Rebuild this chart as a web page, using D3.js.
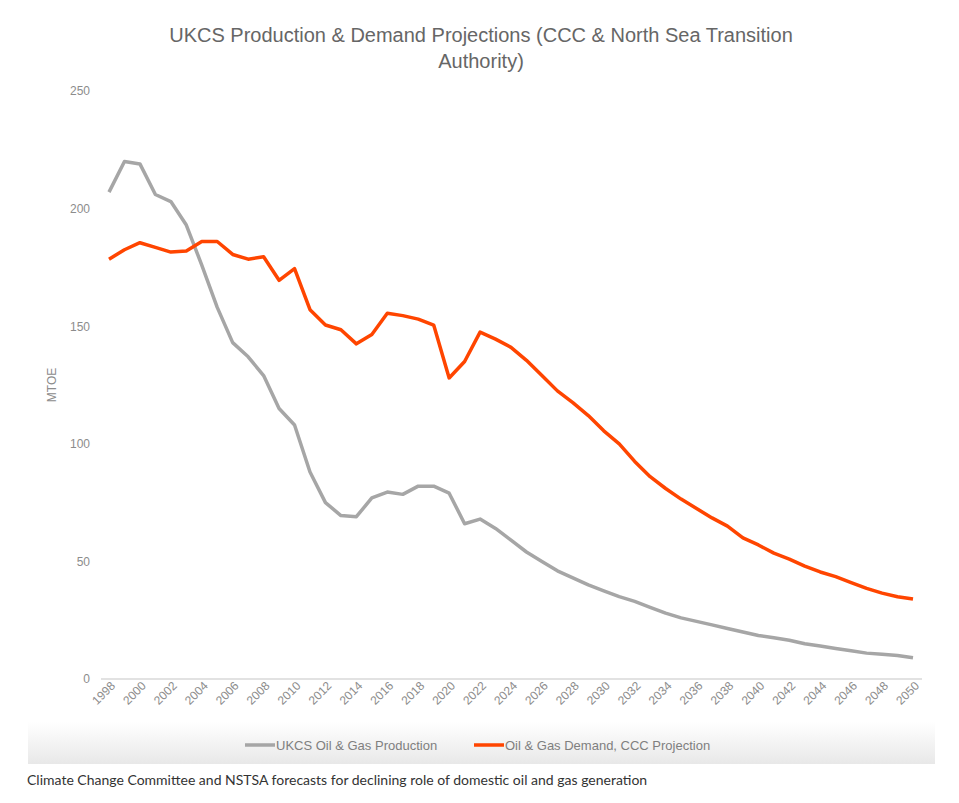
<!DOCTYPE html>
<html lang="en">
<head>
<meta charset="UTF-8">
<script src="https://cdn.jsdelivr.net/npm/d3@7"></script>
<style>
  body { margin: 0; background: #fff; font-family: "Liberation Sans", Arial, sans-serif; }
  .caption { font-family: Lato, sans-serif; font-size: 14px; fill: #333; }
</style>
</head>
<body>
<svg id="chart" width="959" height="803"></svg>
<script>
// years 1998..2050
var years = d3.range(1998, 2051);
var production = [207, 220, 219, 206, 203, 193, 176, 158, 143, 137, 129, 115, 108, 88, 75, 69.5, 69, 77, 79.5, 78.5,
  82, 82, 79, 66, 68, 64, 59, 54, 50, 46, 43, 40, 37.5, 35, 33, 30.5, 28, 26, 24.5, 23, 21.5, 20, 18.5, 17.5,
  16.5, 15, 14, 13, 12, 11, 10.5, 10, 9];
var demand = [178.5, 182.5, 185.5, 183.5, 181.5, 182, 186, 186, 180.5, 178.5, 179.5, 169.5, 174.5, 157, 150.5, 148.5,
  142.5, 146.5, 155.5, 154.5, 153, 150.5, 128, 135, 147.5, 144.5, 141, 135.5, 129, 122.5, 117.5, 112, 105.5, 100,
  92.5, 86, 81, 76.5, 72.5, 68.5, 65, 60, 57, 53.5, 51, 48, 45.5, 43.5, 41, 38.5, 36.5, 35, 34];
var yTicks = [0, 50, 100, 150, 200, 250];
var seriesNames = ["UKCS Oil & Gas Production", "Oil & Gas Demand, CCC Projection"];
var seriesColors = ["#a6a6a6", "#ff4500"];

var svg = d3.select("#chart");
var x = d3.scaleLinear().domain([1998, 2050]).range([109, 913]);
var y = d3.scaleLinear().domain([0, 250]).range([679, 91]);

// title
svg.append("text").attr("x", 481).attr("y", 42).attr("text-anchor", "middle")
  .attr("font-size", 20).attr("fill", "#666").text("UKCS Production & Demand Projections (CCC & North Sea Transition");
svg.append("text").attr("x", 481).attr("y", 68).attr("text-anchor", "middle")
  .attr("font-size", 20).attr("fill", "#666").text("Authority)");

// y axis
var yAxis = svg.append("g").attr("transform", "translate(90,0)")
  .call(d3.axisLeft(y).tickValues(yTicks).tickSize(0).tickPadding(0));
yAxis.select(".domain").remove();
yAxis.selectAll("text").attr("font-size", 12).attr("fill", "#8c8c8c").attr("font-family", "Liberation Sans, Arial");

svg.append("line").attr("x1", 101).attr("x2", 922).attr("y1", y(0)).attr("y2", y(0))
  .attr("stroke", "#d9d9d9").attr("stroke-width", 1.5);

svg.append("text").attr("transform", "translate(56,385) rotate(-90)").attr("text-anchor", "middle")
  .attr("font-size", 12).attr("fill", "#8c8c8c").text("MTOE");

// x axis
var xAxis = svg.append("g").attr("transform", "translate(0," + (y(0) + 8) + ")")
  .call(d3.axisBottom(x).tickValues(years.filter(function(d) { return d % 2 === 0; }))
    .tickFormat(d3.format("d")).tickSize(0).tickPadding(0));
xAxis.select(".domain").remove();
xAxis.selectAll("text").attr("font-size", 12).attr("fill", "#8c8c8c")
  .attr("text-anchor", "end").attr("y", 0).attr("dy", "0.35em").attr("dx", "0.4em")
  .attr("transform", "rotate(-45)");

// lines
var line = d3.line().x(function(d, i) { return x(years[i]); }).y(function(d) { return y(d); });
[production, demand].forEach(function(s, i) {
  svg.append("path").attr("d", line(s)).attr("fill", "none")
    .attr("stroke", seriesColors[i]).attr("stroke-width", 3.5).attr("stroke-linejoin", "round");
});

// legend band
var grad = svg.append("defs").append("linearGradient").attr("id", "lg").attr("x1", 0).attr("x2", 0).attr("y1", 0).attr("y2", 1);
grad.append("stop").attr("offset", "0%").attr("stop-color", "#ffffff");
grad.append("stop").attr("offset", "100%").attr("stop-color", "#e8e8e8");
svg.append("rect").attr("x", 28).attr("y", 722).attr("width", 907).attr("height", 42).attr("fill", "url(#lg)");

var legX = [245, 474];
seriesNames.forEach(function(n, i) {
  svg.append("line").attr("x1", legX[i]).attr("x2", legX[i] + 30).attr("y1", 745).attr("y2", 745)
    .attr("stroke", seriesColors[i]).attr("stroke-width", 3.5);
  svg.append("text").attr("x", legX[i] + 31).attr("y", 750).attr("font-size", 13).attr("fill", "#7f7f7f").text(n);
});

svg.append("text").attr("class", "caption").attr("x", 27).attr("y", 785)
  .text("Climate Change Committee and NSTSA forecasts for declining role of domestic oil and gas generation");
</script>
</body>
</html>
